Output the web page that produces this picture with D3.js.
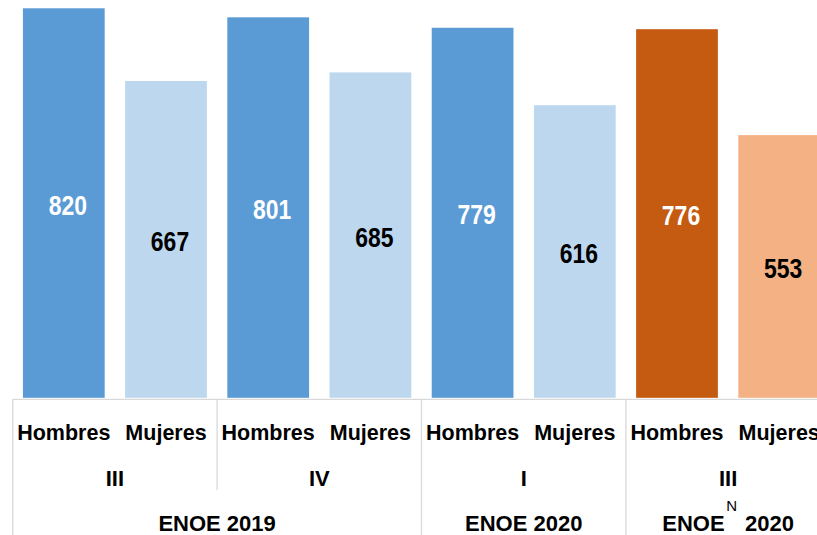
<!DOCTYPE html>
<html>
<head>
<meta charset="utf-8">
<script src="https://cdn.jsdelivr.net/npm/d3@7"></script>
<style>
  html, body { margin: 0; padding: 0; background: #fff; }
  svg { display: block; }
  text { font-family: "Liberation Sans", Arial, sans-serif; font-weight: bold; }
</style>
</head>
<body>
<svg id="chart" width="817" height="535"></svg>
<script>
const categories = ["Hombres", "Mujeres", "Hombres", "Mujeres", "Hombres", "Mujeres", "Hombres", "Mujeres"];
const values = [820, 667, 801, 685, 779, 616, 776, 553];
const barColors = ["#5B9BD5", "#BDD7EE", "#5B9BD5", "#BDD7EE", "#5B9BD5", "#BDD7EE", "#C55A11", "#F4B183"];
const labelColors = ["#ffffff", "#000000", "#ffffff", "#000000", "#ffffff", "#000000", "#ffffff", "#000000"];
const quarters = ["III", "IV", "I", "III"];
const quarterSpans = [2, 2, 2, 2];
const years = ["ENOE 2019", "ENOE 2020", "ENOE|N|2020"];
const yearSpans = [4, 2, 2];

const W = 817, H = 535;
const svg = d3.select("#chart");

const left = 12.7, step = 102.2;
const idx = d3.range(categories.length);
const x = d3.scaleBand()
  .domain(idx)
  .range([left, left + step * categories.length])
  .paddingInner(0.2)
  .paddingOuter(0.1);

const y = d3.scaleLinear().domain([0, 820]).range([397.8, 8.3]);

// bars
svg.append("g").selectAll("rect").data(values).join("rect")
  .attr("x", (d, i) => x(i))
  .attr("width", x.bandwidth())
  .attr("y", d => y(d))
  .attr("height", d => y(0) - y(d))
  .attr("fill", (d, i) => barColors[i]);

// value labels
svg.append("g").selectAll("text").data(values).join("text")
  .attr("transform", (d, i) => {
    const cx = x(i) + x.bandwidth() / 2 + 4;
    const cy = (y(d) + y(0)) / 2 + 11.5;
    return `translate(${cx},${cy}) scale(0.85,1)`;
  })
  .attr("text-anchor", "middle")
  .attr("font-size", 27)
  .attr("fill", (d, i) => labelColors[i])
  .text(d => d);

// axis baseline
const gridColor = "#d9d9d9";
svg.append("line")
  .attr("x1", left).attr("x2", W)
  .attr("y1", 399.3).attr("y2", 399.3)
  .attr("stroke", gridColor).attr("stroke-width", 1.3);

// category labels
svg.append("g").selectAll("text").data(categories).join("text")
  .attr("x", (d, i) => x(i) + x.bandwidth() / 2)
  .attr("y", 440)
  .attr("text-anchor", "middle")
  .attr("font-size", 21.5)
  .attr("fill", "#000")
  .text(d => d);

// quarter labels
let qStart = 0;
const qBounds = [];
quarters.forEach((q, k) => {
  const x0 = left + step * qStart;
  const x1 = left + step * (qStart + quarterSpans[k]);
  qBounds.push([x0, x1]);
  svg.append("text")
    .attr("x", (x0 + x1) / 2)
    .attr("y", 486)
    .attr("text-anchor", "middle")
    .attr("font-size", 22)
    .attr("fill", "#000")
    .text(q);
  qStart += quarterSpans[k];
});

// year labels
let yStart = 0;
const yBounds = [];
years.forEach((yl, k) => {
  const x0 = left + step * yStart;
  const x1 = left + step * (yStart + yearSpans[k]);
  yBounds.push([x0, x1]);
  const t = svg.append("text")
    .attr("x", (x0 + x1) / 2)
    .attr("y", 531)
    .attr("text-anchor", "middle")
    .attr("font-size", 22)
    .attr("fill", "#000");
  const parts = yl.split("|");
  if (parts.length === 3) {
    t.append("tspan").text(parts[0]);
    t.append("tspan").attr("font-size", 15).attr("font-weight", "normal")
      .attr("dx", 1.5).attr("dy", -20).text(parts[1]);
    t.append("tspan").attr("dx", 8).attr("dy", 20).text(parts[2]);
  } else {
    t.text(yl);
  }
  yStart += yearSpans[k];
});

// separators
const yearEdges = new Set();
yBounds.forEach(([a, b]) => { yearEdges.add(a.toFixed(1)); yearEdges.add(b.toFixed(1)); });
const allEdges = [];
qBounds.forEach(([a, b]) => { allEdges.push(a); allEdges.push(b); });
const uniqueEdges = Array.from(new Set(allEdges.map(e => e.toFixed(1)))).map(Number);
svg.append("g").selectAll("line").data(uniqueEdges).join("line")
  .attr("x1", d => d).attr("x2", d => d)
  .attr("y1", 399.3)
  .attr("y2", d => yearEdges.has(d.toFixed(1)) ? H : 490)
  .attr("stroke", gridColor).attr("stroke-width", 1.3);
</script>
</body>
</html>
